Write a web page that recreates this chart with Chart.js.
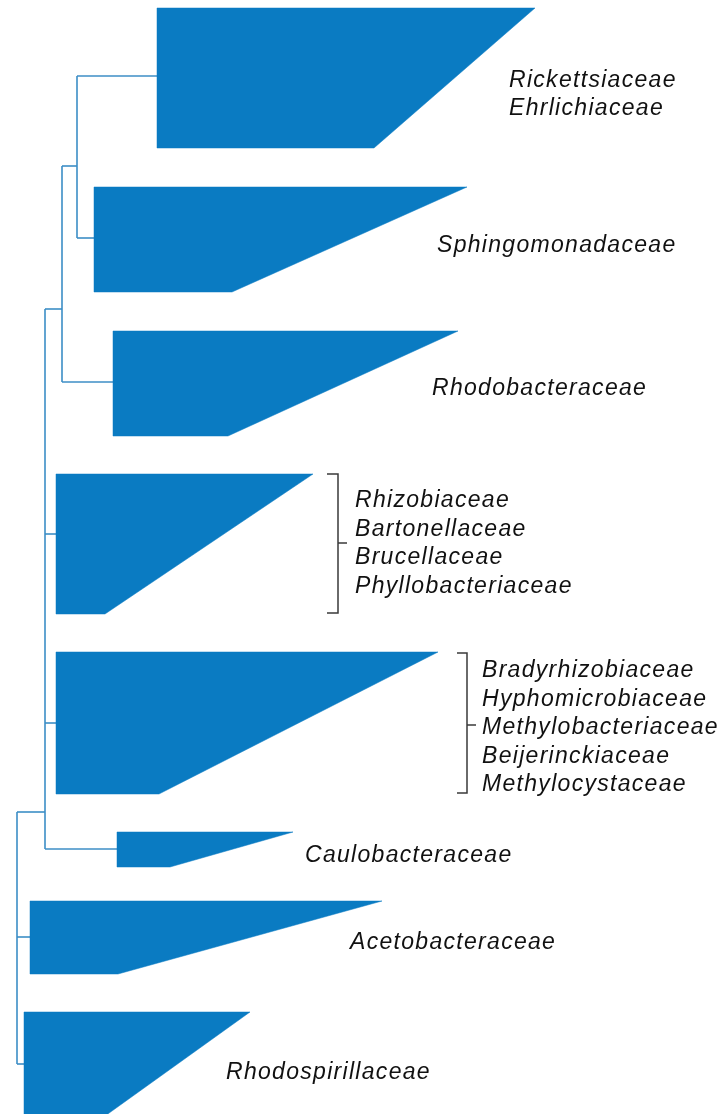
<!DOCTYPE html>
<html>
<head>
<meta charset="utf-8">
<title>Alphaproteobacteria families</title>
<script src="https://cdn.jsdelivr.net/npm/chart.js@4/dist/chart.umd.min.js"></script>
<style>
  html, body { margin: 0; padding: 0; background: #ffffff; }
  #wrap { position: relative; width: 723px; height: 1114px; }
</style>
</head>
<body>
<div id="wrap"><canvas id="tree"></canvas></div>
<script>
// ---- Collapsed clades (one wedge per family group), top to bottom ----
const cladeNames = [
  ['Rickettsiaceae', 'Ehrlichiaceae'],
  ['Sphingomonadaceae'],
  ['Rhodobacteraceae'],
  ['Rhizobiaceae', 'Bartonellaceae', 'Brucellaceae', 'Phyllobacteriaceae'],
  ['Bradyrhizobiaceae', 'Hyphomicrobiaceae', 'Methylobacteriaceae', 'Beijerinckiaceae', 'Methylocystaceae'],
  ['Caulobacteraceae'],
  ['Acetobacteraceae'],
  ['Rhodospirillaceae']
];
// depth where each clade starts (its stem node)
const cladeRoot      = [157, 94, 113, 56, 56, 117, 30, 24];
// depth of the longest and the shortest leaf in each clade
const cladeLongTip   = [535, 467, 458, 313, 438, 293, 382, 250];
const cladeShortTip  = [374, 232, 228, 105, 159, 170, 118, 105];
// vertical extent of each wedge (leaf rows)
const cladeTop       = [8, 187, 331, 474, 652, 832, 901, 1012];
const cladeBottom    = [148, 292, 436, 614, 794, 867, 974, 1116];
// row at which each clade's stem attaches
const cladeStem      = [76, 238, 382, 534, 723, 849, 937, 1064];

// ---- Internal nodes: depth, row where the node hangs from its parent, child rows ----
const nodeDepth    = [77, 62, 45, 17];
const nodeChildren = [
  [{ x: 157, y: 76 }, { x: 94, y: 238 }],                                     // Rickettsiales + Sphingomonadales
  [{ x: 77, y: 166 }, { x: 113, y: 382 }],                                    // + Rhodobacterales
  [{ x: 62, y: 309 }, { x: 56, y: 534 }, { x: 56, y: 723 }, { x: 117, y: 849 }], // + Rhizobiales, Caulobacterales
  [{ x: 45, y: 812 }, { x: 30, y: 937 }, { x: 24, y: 1064 }]                  // root
];

// ---- Brackets grouping several families under one wedge ----
const bracketClade = [3, 4];
const bracketSpine = [338, 467];
const bracketHook  = [327, 457];
const bracketTick  = [347, 476];
const bracketTop   = [474, 653];
const bracketBot   = [613, 793];
const bracketMid   = [543, 725];

// ---- Label anchors (left edge, first baseline, line step) ----
const labelX    = [509, 437, 432, 355, 482, 305, 350, 226];
const labelY    = [87, 252, 395, 507, 677, 862, 949, 1079];
const labelStep = [28, 0, 0, 28.6, 28.5, 0, 0, 0];

const WEDGE = '#0a7bc2';
const BRANCH = '#3c8ec6';
const BRACKET = '#3a3a3a';

const datasets = [];

// wedges
cladeNames.forEach((names, i) => {
  datasets.push({
    label: names.join(', '),
    data: [
      { x: cladeRoot[i], y: cladeTop[i] },
      { x: cladeLongTip[i], y: cladeTop[i] },
      { x: cladeShortTip[i], y: cladeBottom[i] },
      { x: cladeRoot[i], y: cladeBottom[i] },
      { x: cladeRoot[i], y: cladeTop[i] }
    ],
    showLine: true,
    fill: 'shape',
    backgroundColor: WEDGE,
    borderColor: WEDGE,
    borderWidth: 0.5,
    pointRadius: 0,
    tension: 0
  });
});

// branches: one vertical per node plus a horizontal to every child
nodeDepth.forEach((d, i) => {
  const kids = nodeChildren[i];
  const ys = kids.map(k => k.y);
  datasets.push({
    data: [{ x: d, y: Math.min(...ys) }, { x: d, y: Math.max(...ys) }],
    showLine: true, fill: false, borderColor: BRANCH, borderWidth: 1.6, pointRadius: 0
  });
  kids.forEach(k => {
    datasets.push({
      data: [{ x: d, y: k.y }, { x: k.x, y: k.y }],
      showLine: true, fill: false, borderColor: BRANCH, borderWidth: 1.6, pointRadius: 0
    });
  });
});

// brackets
bracketClade.forEach((c, i) => {
  datasets.push({
    data: [
      { x: bracketHook[i], y: bracketTop[i] },
      { x: bracketSpine[i], y: bracketTop[i] },
      { x: bracketSpine[i], y: bracketBot[i] },
      { x: bracketHook[i], y: bracketBot[i] }
    ],
    showLine: true, fill: false, borderColor: BRACKET, borderWidth: 1.5, pointRadius: 0
  });
  datasets.push({
    data: [{ x: bracketSpine[i], y: bracketMid[i] }, { x: bracketTick[i], y: bracketMid[i] }],
    showLine: true, fill: false, borderColor: BRACKET, borderWidth: 1.5, pointRadius: 0
  });
});

// family names beside each wedge
const familyLabels = {
  id: 'familyLabels',
  afterDatasetsDraw(chart) {
    const { ctx, scales: { x, y } } = chart;
    ctx.save();
    ctx.fillStyle = '#111111';
    ctx.font = 'italic 23px "Liberation Sans", Arial, sans-serif';
    if ('letterSpacing' in ctx) ctx.letterSpacing = '1.3px';
    ctx.textAlign = 'left';
    ctx.textBaseline = 'alphabetic';
    cladeNames.forEach((names, i) => {
      names.forEach((n, j) => {
        ctx.fillText(n, x.getPixelForValue(labelX[i]), y.getPixelForValue(labelY[i] + j * labelStep[i]));
      });
    });
    ctx.restore();
  }
};

new Chart(document.getElementById('tree'), {
  type: 'scatter',
  data: { datasets },
  options: {
    responsive: true,
    maintainAspectRatio: false,
    animation: false,
    events: [],
    layout: { padding: 0 },
    plugins: { legend: { display: false }, tooltip: { enabled: false } },
    scales: {
      x: { type: 'linear', min: 0, max: 723, display: false },
      y: { type: 'linear', min: 0, max: 1114, reverse: true, display: false }
    }
  },
  plugins: [familyLabels]
});
</script>
</body>
</html>
